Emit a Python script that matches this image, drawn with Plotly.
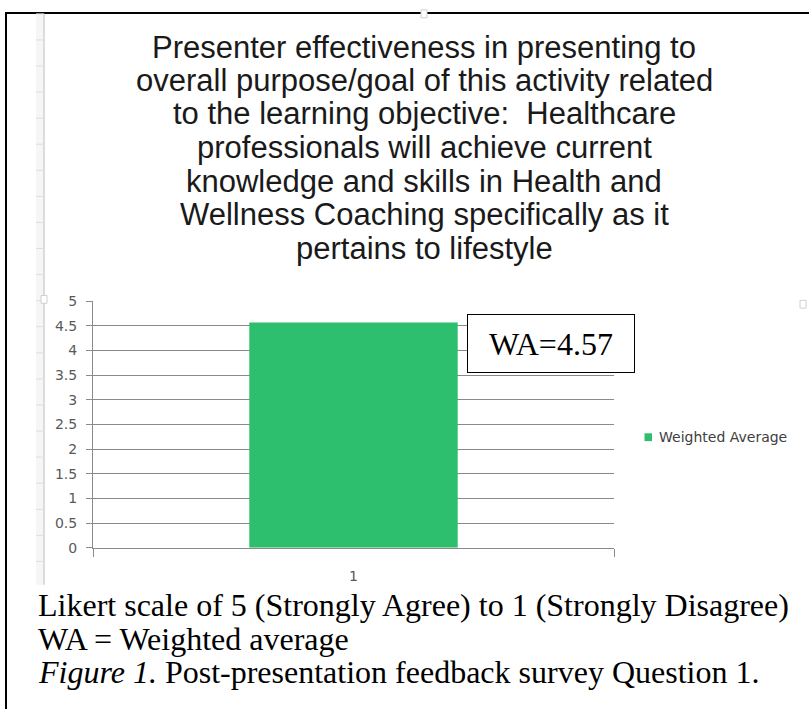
import plotly.graph_objects as go

# ---------------- data ----------------
categories = ["1"]
weighted_average = [4.57]
series_name = "Weighted Average"
y_tickvals = [0, 0.5, 1, 1.5, 2, 2.5, 3, 3.5, 4, 4.5, 5]
y_ticktext = ["0", "0.5", "1", "1.5", "2", "2.5", "3", "3.5", "4", "4.5", "5"]
title_lines = [
    "Presenter effectiveness in presenting to",
    "overall purpose/goal of this activity related",
    "to the learning objective:  Healthcare",
    "professionals will achieve current",
    "knowledge and skills in Health and",
    "Wellness Coaching specifically as it",
    "pertains to lifestyle",
]
box_label = "WA=4.57"
caption_lines = [
    "Likert scale of 5 (Strongly Agree) to 1 (Strongly Disagree)",
    "WA = Weighted average",
    "<i>Figure 1.</i> Post-presentation feedback survey Question 1.",
]

W, H = 809, 717


def px(x):
    return x / W


def py(y):
    return 1 - y / H


BAR_COLOR = "#2dbe6e"
GRID = "#8a8a8a"
TICKFONT = dict(family="DejaVu Sans", size=14, color="#595959")

fig = go.Figure()
fig.add_trace(
    go.Bar(
        x=categories,
        y=weighted_average,
        name=series_name,
        marker=dict(color=BAR_COLOR, line=dict(width=0)),
        width=0.4,
        showlegend=False,
        hoverinfo="skip",
    )
)

shapes = []
# outer frame (top and left)
shapes.append(dict(type="line", xref="paper", yref="paper",
                   x0=px(5), x1=px(809), y0=py(5), y1=py(5),
                   line=dict(color="black", width=2)))
shapes.append(dict(type="line", xref="paper", yref="paper",
                   x0=px(6), x1=px(6), y0=py(5), y1=py(717),
                   line=dict(color="black", width=2)))
# spreadsheet row strip on the left
shapes.append(dict(type="rect", xref="paper", yref="paper",
                   x0=px(36), x1=px(44), y0=py(6), y1=py(590),
                   fillcolor="#f6f6f6", line=dict(width=0), layer="below"))
shapes.append(dict(type="line", xref="paper", yref="paper",
                   x0=px(44), x1=px(44), y0=py(6), y1=py(590),
                   line=dict(color="#d2d2d2", width=1.5)))
k = 0
while 6 + 26.67 * k < 588:
    yy = 6 + 26.67 * k
    shapes.append(dict(type="line", xref="paper", yref="paper",
                       x0=px(36), x1=px(44), y0=py(yy), y1=py(yy),
                       line=dict(color="#dedede", width=1)))
    k += 1
# chart selection handles
for (hx, hy) in [(424, 6), (44, 298), (803, 303)]:
    shapes.append(dict(type="rect", xref="paper", yref="paper",
                       x0=px(hx - 3), x1=px(hx + 3), y0=py(hy - 4), y1=py(hy + 4),
                       fillcolor="white", line=dict(color="#d0d0d0", width=1)))
# legend key
shapes.append(dict(type="rect", xref="paper", yref="paper",
                   x0=px(644.5), x1=px(652), y0=py(435), y1=py(443),
                   fillcolor=BAR_COLOR, line=dict(width=0)))

annotations = []
title_y = [40, 74, 108, 143, 177, 211, 246]
for line, yy in zip(title_lines, title_y):
    annotations.append(dict(
        text=line, xref="paper", yref="paper", x=px(424), y=py(yy),
        xanchor="center", yanchor="middle", showarrow=False,
        font=dict(family="Liberation Sans, Arial", size=31, color="#1a1a1a")))

annotations.append(dict(
    text=series_name, xref="paper", yref="paper", x=px(657), y=py(439),
    xanchor="left", yanchor="middle", showarrow=False,
    font=dict(family="DejaVu Sans", size=14, color="#404040")))

annotations.append(dict(
    text=box_label, xref="paper", yref="paper", x=px(550.5), y=py(343),
    xanchor="center", yanchor="middle", showarrow=False,
    width=166, height=57, borderpad=0, bordercolor="black", borderwidth=1,
    bgcolor="white",
    font=dict(family="Liberation Serif, Times New Roman", size=32, color="black")))

cap_y = [611, 645, 679]
for line, yy in zip(caption_lines, cap_y):
    annotations.append(dict(
        text=line, xref="paper", yref="paper", x=px(36), y=py(yy),
        xanchor="left", yanchor="middle", showarrow=False,
        font=dict(family="Liberation Serif, Times New Roman", size=32, color="black")))

fig.update_layout(
    width=W, height=H,
    margin=dict(l=0, r=0, t=0, b=0),
    paper_bgcolor="white", plot_bgcolor="white",
    showlegend=False,
    shapes=shapes,
    annotations=annotations,
    xaxis=dict(
        domain=[px(93), px(614)],
        type="category",
        range=[-0.5, 0.5],
        showgrid=False,
        showline=True, linecolor=GRID, linewidth=1,
        ticks="outside", ticklen=8, tickcolor=GRID, tickwidth=1,
        tickson="boundaries",
        tickfont=TICKFONT,
        ticklabelstandoff=16,
        fixedrange=True,
    ),
    yaxis=dict(
        domain=[py(552), py(300)],
        range=[0, 5],
        tickvals=y_tickvals, ticktext=y_ticktext,
        showgrid=True, gridcolor=GRID, gridwidth=1,
        showline=True, linecolor=GRID, linewidth=1,
        ticks="outside", ticklen=6, tickcolor=GRID, tickwidth=1,
        tickfont=TICKFONT,
        ticklabelstandoff=6,
        zeroline=False,
        fixedrange=True,
    ),
)

fig.write_html(
    "out.html",
    config={"displayModeBar": False, "staticPlot": True},
    post_script="document.body.style.margin='0';document.body.style.padding='0';",
)
